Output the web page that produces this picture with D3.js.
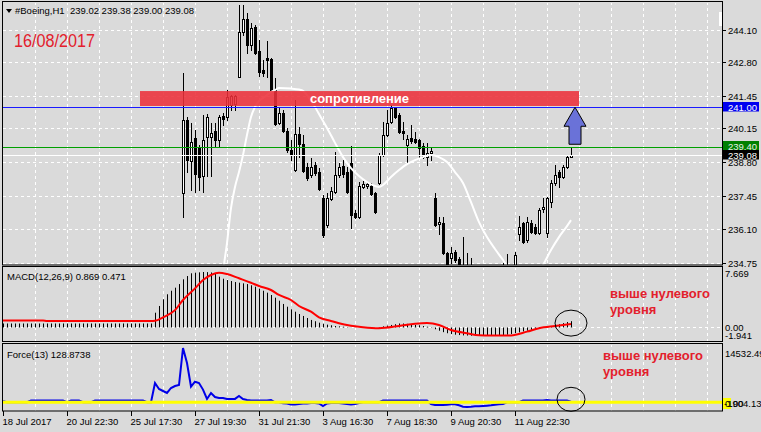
<!DOCTYPE html>
<html><head><meta charset="utf-8">
<script src="https://cdn.jsdelivr.net/npm/d3@7/dist/d3.min.js"></script>
<style>body{margin:0;background:#dadada;}svg{display:block;font-family:"Liberation Sans",Arial,sans-serif;}</style>
</head><body>
<svg id="c" width="761" height="432"></svg>
<script>
// ---------------- DATA ----------------
const symbolTitle = "#Boeing,H1  239.02 239.38 239.00 239.08";
const dateText = "16/08/2017";
const zoneText = "сопротивление";
const noteLines = ["выше нулевого", "уровня"];
const timeLabels = ["18 Jul 2017","20 Jul 22:30","25 Jul 17:30","27 Jul 19:30","31 Jul 21:30","3 Aug 16:30","7 Aug 18:30","9 Aug 20:30","11 Aug 22:30"];
const timeLabelBars = [0,16,32,48,64,80,96,112,128];
const priceTicks = [244.10,242.80,241.45,240.15,238.80,237.45,236.10,234.75];
const resistanceLevel = 241.00;
const greenLevel = 239.40;
const bidPrice = 239.08;
const resistanceZone = [241.05, 241.65];
const zoneBars = [34.25, 144];

const firstCandleBar = 45;
const opens = [237.56,240.49,238.84,239.77,239.37,238.24,239.81,239.81,240.05,239.69,
240.65,240.61,241.09,241.13,242.21,244.02,244.54,243.50,244.22,243.26,
242.49,242.98,242.94,241.69,240.37,240.77,240.05,239.29,238.48,239.93,
239.53,238.60,238.28,238.68,238.40,237.35,236.27,237.31,237.60,238.28,
238.64,238.40,238.76,236.75,236.59,237.80,237.84,237.84,237.56,237.96,
239.08,239.89,240.41,240.97,240.69,240.05,239.49,239.77,239.73,239.69,
239.45,239.00,239.16,237.35,236.31,236.35,235.15,234.95,235.19,234.91,
234.35,234.50,234.30,234.45,234.20,234.10,234.00,233.85,234.15,234.25,
234.35,234.40,234.30,234.35,235.91,236.35,235.67,236.35,236.19,235.95,
236.91,235.95,237.19,237.96,238.40,238.20,238.60,239.02];
const highs = [242.37,240.61,240.37,240.09,239.49,240.69,240.73,240.37,240.37,240.69,
240.77,241.69,241.49,241.49,245.10,245.10,244.78,244.38,244.30,243.70,
242.90,243.66,242.98,242.17,241.01,240.89,240.17,239.69,241.29,240.21,
239.89,238.76,238.96,238.80,238.56,237.47,237.56,237.80,239.20,238.76,
238.88,238.60,239.45,236.87,238.00,238.04,238.00,237.96,237.60,239.16,
240.41,240.89,241.09,241.01,240.77,240.41,239.89,240.29,240.01,239.73,
239.57,239.57,239.37,237.56,236.59,236.59,235.19,235.39,235.27,234.99,
235.79,235.15,234.95,234.60,234.55,234.40,234.30,234.35,234.45,234.55,
234.73,235.11,234.60,235.19,236.63,236.39,236.59,236.47,236.31,236.95,
237.35,237.39,238.08,238.68,238.48,238.68,239.08,239.38];
const lows = [236.59,238.40,237.68,237.60,237.68,237.60,238.24,238.24,239.41,239.41,
240.29,240.49,240.89,240.89,242.21,243.90,243.18,243.30,243.14,242.25,
242.25,242.21,241.65,240.29,240.33,240.01,239.20,238.88,238.44,239.00,
238.40,238.08,238.20,238.28,237.68,235.79,236.19,237.27,237.56,238.20,
238.20,237.56,236.15,236.55,236.55,237.76,237.76,237.47,236.75,237.92,
239.04,239.85,240.37,240.57,239.97,239.73,238.80,239.57,239.57,238.96,
238.96,238.68,238.88,236.23,235.91,235.11,234.45,234.75,234.79,234.40,
234.10,234.10,234.00,234.05,233.90,233.80,233.70,233.75,233.95,234.00,
234.10,234.20,234.05,234.20,235.67,235.55,235.59,235.95,235.91,235.91,
236.79,235.79,236.99,237.88,237.80,238.16,238.56,239.00];
const closes = [240.49,238.88,239.61,238.32,238.20,239.69,240.61,239.97,239.69,240.61,
240.53,241.41,241.45,241.45,244.02,244.54,243.50,244.18,243.18,242.41,
242.37,242.90,241.69,240.33,240.77,240.05,239.29,239.08,239.93,239.53,
238.44,238.16,238.60,238.36,237.72,235.87,237.35,237.64,238.28,238.60,
238.32,237.60,236.67,236.59,237.84,237.92,237.92,237.52,236.79,239.08,
239.89,240.37,240.97,240.61,240.01,239.97,239.73,239.65,239.61,239.37,
239.00,239.16,239.25,236.27,236.39,235.15,234.55,235.15,234.87,234.50,
234.50,234.30,234.45,234.20,234.10,234.00,233.85,234.15,234.25,234.35,
234.40,234.30,234.35,235.07,236.19,235.59,236.39,235.99,235.95,236.87,
236.99,237.35,237.96,238.28,238.20,238.60,239.00,239.08];

const maBars = [54,55,56,57,58,59,60,61,62,63,64,65,66,67,68,69,72,74,75,76,77,78,79,80,81,83,85,87,89,91,93,94,95,97,99,101,103,105,107,109,111,113,115,117,119,121,123,125,127,130,133,135,137,139,141,142];
const maValues = [232.0,234.3,235.55,236.95,237.80,238.40,239.08,239.89,240.61,241.01,241.25,241.37,241.49,241.61,241.69,241.77,241.75,241.71,241.66,241.49,241.25,241.01,240.73,240.45,240.17,239.57,239.00,238.56,238.24,238.00,237.84,237.80,237.88,238.20,238.48,238.72,238.88,239.00,239.08,239.00,238.80,238.40,237.96,237.19,236.39,235.79,235.31,234.87,234.39,234.07,234.23,234.67,235.27,235.79,236.23,236.47];

const macdLabel = "MACD(12,26,9) 0.869 0.471";
const macdMax = 7.669, macdMin = -1.941;
const macdMain = [0.55,0.55,0.55,0.55,0.55,0.55,0.55,0.55,0.55,0.55,0.55,0.55,0.55,0.55,0.55,0.55,0.55,0.55,0.55,0.55,
0.55,0.55,0.55,0.55,0.55,0.55,0.55,0.55,0.55,0.55,0.55,0.55,0.55,0.55,0.55,0.55,0.55,0.55,
2.04,2.97,3.90,4.59,5.08,5.50,6.00,6.66,7.11,7.49,7.57,7.62,7.669,7.65,7.60,
7.39,7.02,6.74,6.56,6.42,6.28,6.19,6.10,6.00,5.83,5.64,5.36,5.08,4.81,4.49,4.12,3.70,3.25,2.87,2.51,2.18,1.86,1.59,1.31,1.04,0.86,0.66,0.52,0.39,0.30,0.20,0.15,0.10,0.05,0.02,
0.02,0.0,-0.02,0.0,0.02,0.0,0.05,0.15,0.25,0.35,0.45,0.55,0.55,0.5,0.4,0.35,0.3,0.2,0.1,-0.05,-0.25,-0.45,-0.65,-0.8,-0.92,-1.0,-1.05,-1.1,-1.12,-1.15,-1.15,-1.15,-1.15,-1.15,-1.12,-1.1,-1.1,-1.05,-1.0,-0.9,-0.8,-0.68,-0.55,-0.45,-0.32,-0.2,-0.1,-0.02,0.05,0.15,0.3,0.45,0.6,0.75,0.869];
const signalBars = [0,10,11,37,38,40,43,45,48,50,52,54,56,59,62,64,67,69,72,74,77,79,82,84,87,90,94,99,103,106,109,112,116,119,122,127,131,134,138,142];
const signalValues = [0.95,0.95,0.88,0.88,0.92,1.4,2.4,3.8,5.4,6.56,7.25,7.57,7.39,6.8,6.19,5.73,5.18,4.49,3.8,2.97,2.18,1.41,0.9,0.58,0.25,0.03,-0.11,0.2,0.5,0.6,0.35,-0.35,-0.8,-1.08,-1.12,-1.1,-0.58,-0.11,0.2,0.471];

const forceLabel = "Force(13) 128.8738";
const forceMax = 14532.49, forceMin = -1904.13;
const forceValues = [300,0,0,0,0,0,0,450,450,450,450,450,450,450,450,450,0,450,450,450,0,0,0,
450,450,450,450,450,450,450,450,450,450,450,450,450,0,0,
5165,3560,3024,2489,3827,4362,4630,14532.49,10500,4170,5500,5160,3400,880,2490,1420,1150,1150,880,880,900,1690,880,615,480,480,480,480,480,615,0,0,
-270,-320,-590,-590,-455,-320,-320,-190,-190,-320,-990,-320,-190,-190,-190,-320,-455,-590,-455,-190,
0,0,0,0,0,450,450,450,450,450,450,450,450,450,450,450,450,
-455,-720,-720,-720,-630,-540,-540,-810,-1180,-1250,-1180,-1070,-1070,-980,-900,-810,-630,-540,-450,
0,0,0,0,450,450,450,450,450,450,615,450,450,450,450,450,128.87];

// ---------------- DRAW ----------------
const W = 761, H = 432;
const BG = "#dadada", RED = "#e3202c";
const svg = d3.select("#c");
svg.append("rect").attr("width", W).attr("height", H).attr("fill", BG);

const xS = d3.scaleLinear().domain([0, 142]).range([3, 571]);
const yP = d3.scaleLinear().domain([234.75, 244.10]).range([263, 30]);
const yM = d3.scaleLinear().domain([macdMin, macdMax]).range([341.5, 272]);
const yF = d3.scaleLinear().domain([forceMin, forceMax]).range([409.4, 348]);

const panes = [{id: "pm", y0: 2, y1: 265}, {id: "pd", y0: 267, y1: 342}, {id: "pf", y0: 344, y1: 411}];
const defs = svg.append("defs");
panes.forEach(p => {
  defs.append("clipPath").attr("id", "clip-" + p.id).append("rect")
    .attr("x", 3).attr("y", p.y0 + 1).attr("width", 719).attr("height", p.y1 - p.y0 - 1);
});
const G = {};
panes.forEach(p => { G[p.id] = svg.append("g").attr("clip-path", `url(#clip-${p.id})`); });

// vertical grid
const gridBars = d3.range(8, 180, 8);
panes.forEach(p => {
  G[p.id].selectAll(".vg").data(gridBars).join("line")
    .attr("x1", d => xS(d) + 0.5).attr("x2", d => xS(d) + 0.5)
    .attr("y1", p.y0).attr("y2", p.y1)
    .attr("stroke", "#fff").attr("stroke-dasharray", "3,3");
});
// horizontal grid main
G.pm.selectAll(".hg").data(priceTicks).join("line")
  .attr("x1", 3).attr("x2", 722).attr("y1", d => Math.round(yP(d)) + 0.5).attr("y2", d => Math.round(yP(d)) + 0.5)
  .attr("stroke", "#fff").attr("stroke-dasharray", "3,3");
// MACD zero grid
G.pd.append("line").attr("x1", 3).attr("x2", 722).attr("y1", Math.round(yM(0)) + 0.5).attr("y2", Math.round(yM(0)) + 0.5)
  .attr("stroke", "#fff").attr("stroke-dasharray", "3,3");

// candles
const candles = opens.map((o, i) => ({bar: firstCandleBar + i, o, h: highs[i], l: lows[i], c: closes[i]}));
const cg = G.pm.append("g");
candles.forEach(d => {
  const cx = Math.round(xS(d.bar));
  cg.append("line").attr("x1", cx + 0.5).attr("x2", cx + 0.5)
    .attr("y1", Math.round(yP(d.h))).attr("y2", Math.round(yP(d.l)) + 1).attr("stroke", "#000");
  const yt = Math.round(yP(Math.max(d.o, d.c))), yb = Math.round(yP(Math.min(d.o, d.c)));
  const h = Math.max(1, yb - yt);
  cg.append("rect").attr("x", cx - 1).attr("y", yt).attr("width", 3).attr("height", h + 1).attr("fill", "#000");
  if (d.c >= d.o && h >= 2) {
    cg.append("rect").attr("x", cx).attr("y", yt + 1).attr("width", 1).attr("height", h - 1).attr("fill", "#fff");
  }
});

// moving average
G.pm.append("path").datum(maBars.map((b, i) => [b, maValues[i]]))
  .attr("d", d3.line().x(d => xS(d[0])).y(d => yP(d[1])).curve(d3.curveMonotoneX))
  .attr("fill", "none").attr("stroke", "#fff").attr("stroke-width", 2);

// horizontal levels
G.pm.append("line").attr("x1", 3).attr("x2", 722).attr("y1", Math.round(yP(resistanceLevel)) + 0.5).attr("y2", Math.round(yP(resistanceLevel)) + 0.5).attr("stroke", "#1a1aff").attr("stroke-width", 1.2);
G.pm.append("line").attr("x1", 3).attr("x2", 722).attr("y1", Math.round(yP(greenLevel)) + 0.5).attr("y2", Math.round(yP(greenLevel)) + 0.5).attr("stroke", "#00a000").attr("stroke-width", 1.2);
G.pm.append("line").attr("x1", 3).attr("x2", 722).attr("y1", Math.round(yP(bidPrice)) + 0.5).attr("y2", Math.round(yP(bidPrice)) + 0.5).attr("stroke", "#fff");

// resistance zone
G.pm.append("rect").attr("x", xS(zoneBars[0])).attr("width", xS(zoneBars[1]) - xS(zoneBars[0]))
  .attr("y", yP(resistanceZone[1])).attr("height", yP(resistanceZone[0]) - yP(resistanceZone[1]))
  .attr("fill", "rgb(236,48,58)").attr("opacity", 0.88);
G.pm.append("text").attr("x", (xS(zoneBars[0]) + xS(zoneBars[1])) / 2).attr("y", yP(resistanceZone[0]) - 3)
  .attr("text-anchor", "middle").attr("fill", "#fff").attr("font-weight", "bold").attr("font-size", 13).text(zoneText);

// arrow
const ax = xS(143), ay = yP(resistanceLevel);
const arrowPts = [[0,0],[11,19],[6,19],[6,37],[-6,37],[-6,19],[-11,19]];
G.pm.append("polygon").attr("points", arrowPts.map(p => [ax + p[0], ay + p[1]].join(",")).join(" "))
  .attr("fill", "#6a72d8").attr("stroke", "#000").attr("stroke-width", 1);

// MACD histogram
G.pd.selectAll(".mh").data(macdMain).join("line")
  .attr("x1", (d, i) => xS(i) + 0.5).attr("x2", (d, i) => xS(i) + 0.5)
  .attr("y1", yM(0)).attr("y2", d => yM(d)).attr("stroke", "#000");
G.pd.append("path").datum(signalBars.map((b, i) => [b, signalValues[i]]))
  .attr("d", d3.line().x(d => xS(d[0])).y(d => yM(d[1])).curve(d3.curveMonotoneX))
  .attr("fill", "none").attr("stroke", "#f00").attr("stroke-width", 2);

// Force
G.pf.append("path").datum(forceValues)
  .attr("d", d3.line().x((d, i) => xS(i)).y(d => yF(d)))
  .attr("fill", "none").attr("stroke", "#0000e8").attr("stroke-width", 2);
G.pf.append("line").attr("x1", 3).attr("x2", 722).attr("y1", yF(0)).attr("y2", yF(0)).attr("stroke", "#ffff00").attr("stroke-width", 3);

// ellipses
svg.append("ellipse").attr("cx", xS(142)).attr("cy", yM(0.6)).attr("rx", 16).attr("ry", 13).attr("fill", "none").attr("stroke", "#000");
svg.append("ellipse").attr("cx", xS(142)).attr("cy", yF(800)).attr("rx", 14).attr("ry", 12).attr("fill", "none").attr("stroke", "#000");

// frames
const fr = svg.append("g").attr("fill", "none").attr("stroke", "#000");
fr.append("rect").attr("x", 2.5).attr("y", 1.5).attr("width", 720).attr("height", 263.5);
fr.append("rect").attr("x", 2.5).attr("y", 266.5).attr("width", 720).attr("height", 75);
fr.append("rect").attr("x", 2.5).attr("y", 343.5).attr("width", 720).attr("height", 67.5);

// texts: titles
svg.append("polygon").attr("points", "6,9 12,9 9,13").attr("fill", "#000");
svg.append("text").attr("x", 15).attr("y", 14).attr("font-size", 9.5).attr("fill", "#000").style("white-space", "pre").text(symbolTitle);
svg.append("text").attr("x", 14).attr("y", 47).attr("font-size", 18).attr("textLength", 81).attr("lengthAdjust", "spacingAndGlyphs").attr("fill", RED).text(dateText);
svg.append("text").attr("x", 7).attr("y", 280).attr("font-size", 9.5).text(macdLabel);
svg.append("text").attr("x", 7).attr("y", 358).attr("font-size", 9.5).text(forceLabel);
[[610, 297.5, 313.5], [603, 360, 375.5]].forEach(p => {
  svg.append("text").attr("x", p[0]).attr("y", p[1]).attr("font-size", 13).attr("font-weight", "bold").attr("fill", RED).text(noteLines[0]);
  svg.append("text").attr("x", p[0]).attr("y", p[2]).attr("font-size", 13).attr("font-weight", "bold").attr("fill", RED).text(noteLines[1]);
});

// price axis
const ag = svg.append("g").attr("font-size", 9.5);
priceTicks.forEach(v => {
  const y = Math.round(yP(v)) + 0.5;
  ag.append("line").attr("x1", 722).attr("x2", 726).attr("y1", y).attr("y2", y).attr("stroke", "#000");
  ag.append("text").attr("x", 728).attr("y", y + 3.5).text(v.toFixed(2));
});
function box(v, y0, fill, tcol) {
  ag.append("rect").attr("x", 723).attr("y", y0).attr("width", 36).attr("height", 9.5).attr("fill", fill);
  ag.append("text").attr("x", 728).attr("y", y0 + 8.5).attr("fill", tcol).text(v.toFixed(2));
}
box(resistanceLevel, Math.round(yP(resistanceLevel)) - 5, "#0000f0", "#fff");
box(greenLevel, Math.round(yP(greenLevel)) - 6, "#008000", "#e8f0e8");
box(bidPrice, Math.round(yP(bidPrice)) - 5, "#000", "#fff");
svg.append("rect").attr("x", 719).attr("y", 12).attr("width", 3).attr("height", 14).attr("fill", "#fff");

// MACD axis labels
ag.append("text").attr("x", 725).attr("y", 277).text(macdMax.toFixed(3));
ag.append("text").attr("x", 725).attr("y", 330.5).text("0.00");
ag.append("text").attr("x", 725).attr("y", 338.5).text(macdMin.toFixed(3));
// Force axis labels
ag.append("text").attr("x", 725).attr("y", 357).text(forceMax.toFixed(2));
ag.append("rect").attr("x", 723).attr("y", 398).attr("width", 8).attr("height", 11).attr("fill", "#ffff00");
ag.append("text").attr("x", 724).attr("y", 407).text(forceMin.toFixed(2));
ag.append("text").attr("x", 725).attr("y", 407).text("0.00");

// time axis
const tg = svg.append("g").attr("font-size", 9.5);
timeLabelBars.forEach((b, i) => {
  const x = Math.round(xS(b)) + 0.5;
  tg.append("line").attr("x1", x).attr("x2", x).attr("y1", 411).attr("y2", 416).attr("stroke", "#000");
  tg.append("text").attr("x", x - 1).attr("y", 425).text(timeLabels[i]);
});
</script>
</body></html>
